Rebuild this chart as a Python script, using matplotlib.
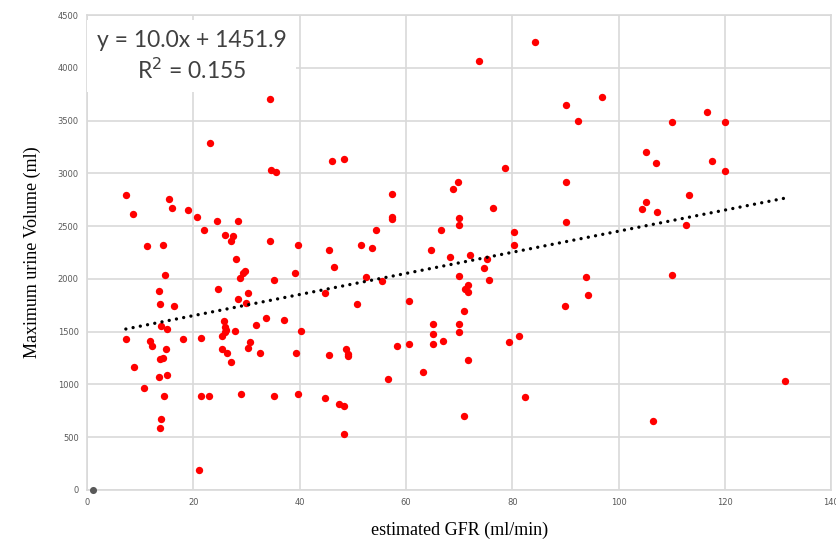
import matplotlib
matplotlib.use('Agg')
import matplotlib.pyplot as plt
import numpy as np

# estimated GFR (ml/min) and maximum urine volume (ml)
gfr = [7.3, 8.7, 15.4, 16.0, 18.9, 20.7, 24.4, 28.4, 22.0, 25.9,
       27.4, 27.0, 34.4, 39.6, 11.3, 14.3, 34.4, 23.2, 34.7, 35.5,
       46.0, 48.4, 45.6, 14.6, 13.5, 13.7, 16.3, 14.0, 15.1, 7.3,
       11.8, 12.3, 14.9, 13.8, 14.3, 8.9, 13.5, 15.1, 10.8, 14.4,
       14.0, 13.8, 21.1, 28.0, 28.7, 29.4, 29.8, 24.7, 28.4, 30.3,
       30.0, 35.1, 39.2, 44.8, 33.6, 37.1, 31.7, 25.7, 26.0, 26.2,
       26.0, 25.4, 27.9, 30.6, 30.2, 25.4, 26.3, 27.0, 32.6, 18.0,
       21.5, 39.4, 40.3, 45.6, 21.5, 22.9, 28.9, 35.1, 39.6, 44.8,
       73.7, 84.3, 90.2, 78.7, 90.2, 68.8, 69.7, 57.4, 76.3, 57.4,
       57.4, 54.3, 66.6, 69.9, 69.9, 80.4, 90.2, 51.5, 53.7, 64.8,
       80.4, 68.3, 72.1, 75.3, 74.6, 46.5, 52.4, 55.5, 50.7, 60.5,
       69.9, 71.6, 71.1, 71.6, 75.7, 71.0, 90.0, 65.0, 65.0, 65.0,
       67.0, 69.9, 69.9, 58.3, 60.5, 48.8, 49.1, 49.1, 71.6, 79.3,
       81.3, 56.7, 63.3, 47.4, 48.4, 48.4, 71.0, 82.4, 96.8, 92.3,
       110.1, 116.7, 120.1, 105.1, 107.0, 117.5, 120.1, 113.2, 105.1, 104.4,
       107.2, 112.6, 93.8, 94.2, 110.1, 131.3, 106.5]
volume = [2794, 2611, 2760, 2671, 2652, 2582, 2551, 2551, 2462, 2418,
          2411, 2357, 2357, 2317, 2310, 2317, 3703, 3285, 3032, 3012,
          3117, 3133, 2272, 2041, 1883, 1763, 1744, 1550, 1525, 1431,
          1408, 1361, 1332, 1241, 1247, 1168, 1070, 1092, 965, 886,
          668, 589, 190, 2193, 2010, 2057, 2070, 1908, 1813, 1867,
          1772, 1987, 2057, 1867, 1630, 1614, 1560, 1598, 1545, 1519,
          1493, 1462, 1510, 1405, 1342, 1339, 1298, 1212, 1298, 1431,
          1437, 1298, 1510, 1282, 895, 886, 905, 886, 905, 870,
          4063, 4247, 3652, 3048, 2917, 2848, 2917, 2804, 2674, 2582,
          2563, 2462, 2462, 2580, 2506, 2446, 2541, 2323, 2297, 2278,
          2317, 2206, 2222, 2193, 2105, 2114, 2016, 1978, 1763, 1788,
          2025, 1946, 1908, 1873, 1987, 1699, 1744, 1569, 1481, 1383,
          1412, 1569, 1497, 1367, 1383, 1336, 1291, 1266, 1228, 1402,
          1462, 1054, 1114, 819, 791, 529, 702, 880, 3725, 3494,
          3487, 3582, 3487, 3202, 3102, 3117, 3022, 2798, 2728, 2665,
          2633, 2506, 2016, 1848, 2041, 1035, 649]

# the grey point at the origin
origin_x = [1.1]
origin_y = [0]

# trendline from the chart
slope = 10.0
intercept = 1451.9
r2 = 0.155

fig = plt.figure(figsize=(8.37, 5.46), dpi=100)
ax = fig.add_axes([0.104, 0.1026, 0.889, 0.8699])

grid_c = '#d9d9d9'
ax.set_xlim(0, 140)
ax.set_ylim(0, 4500)
ax.set_xticks(np.arange(0, 141, 20))
ax.set_yticks(np.arange(0, 4501, 500))
ax.grid(True, color=grid_c, linewidth=1.2)
ax.set_axisbelow(True)
for s in ax.spines.values():
    s.set_color(grid_c)
    s.set_linewidth(1.2)
ax.tick_params(length=0, labelsize=6, labelcolor='#595959', pad=6)

ax.scatter(gfr, volume, s=28, color='#ff0000', zorder=3, linewidths=0)
ax.scatter(origin_x, origin_y, s=26, color='#595959', zorder=3, linewidths=0, clip_on=False)

# linear fit line over the data range
xs = np.array([min(gfr), max(gfr)])
ax.plot(xs, slope * xs + intercept, color='black', linewidth=2.4,
        linestyle=(0, (0.01, 2.2)), dash_capstyle='round', zorder=4)

ax.text(0.141, 0.913, 'y = %.1fx + %.1f\nR$^2$ = %.3f' % (slope, intercept, r2),
        transform=ax.transAxes, ha='center', va='center', fontsize=16.5,
        family='Lato', color='#404040', linespacing=1.3, zorder=5,
        bbox=dict(facecolor='white', edgecolor='none', pad=7))

ax.set_xlabel('estimated GFR (ml/min)', family='Liberation Serif', fontsize=13, labelpad=10)
ax.set_ylabel('Maximum urine Volume (ml)', family='Liberation Serif', fontsize=13, labelpad=12)

fig.savefig('out.png', dpi=100)
